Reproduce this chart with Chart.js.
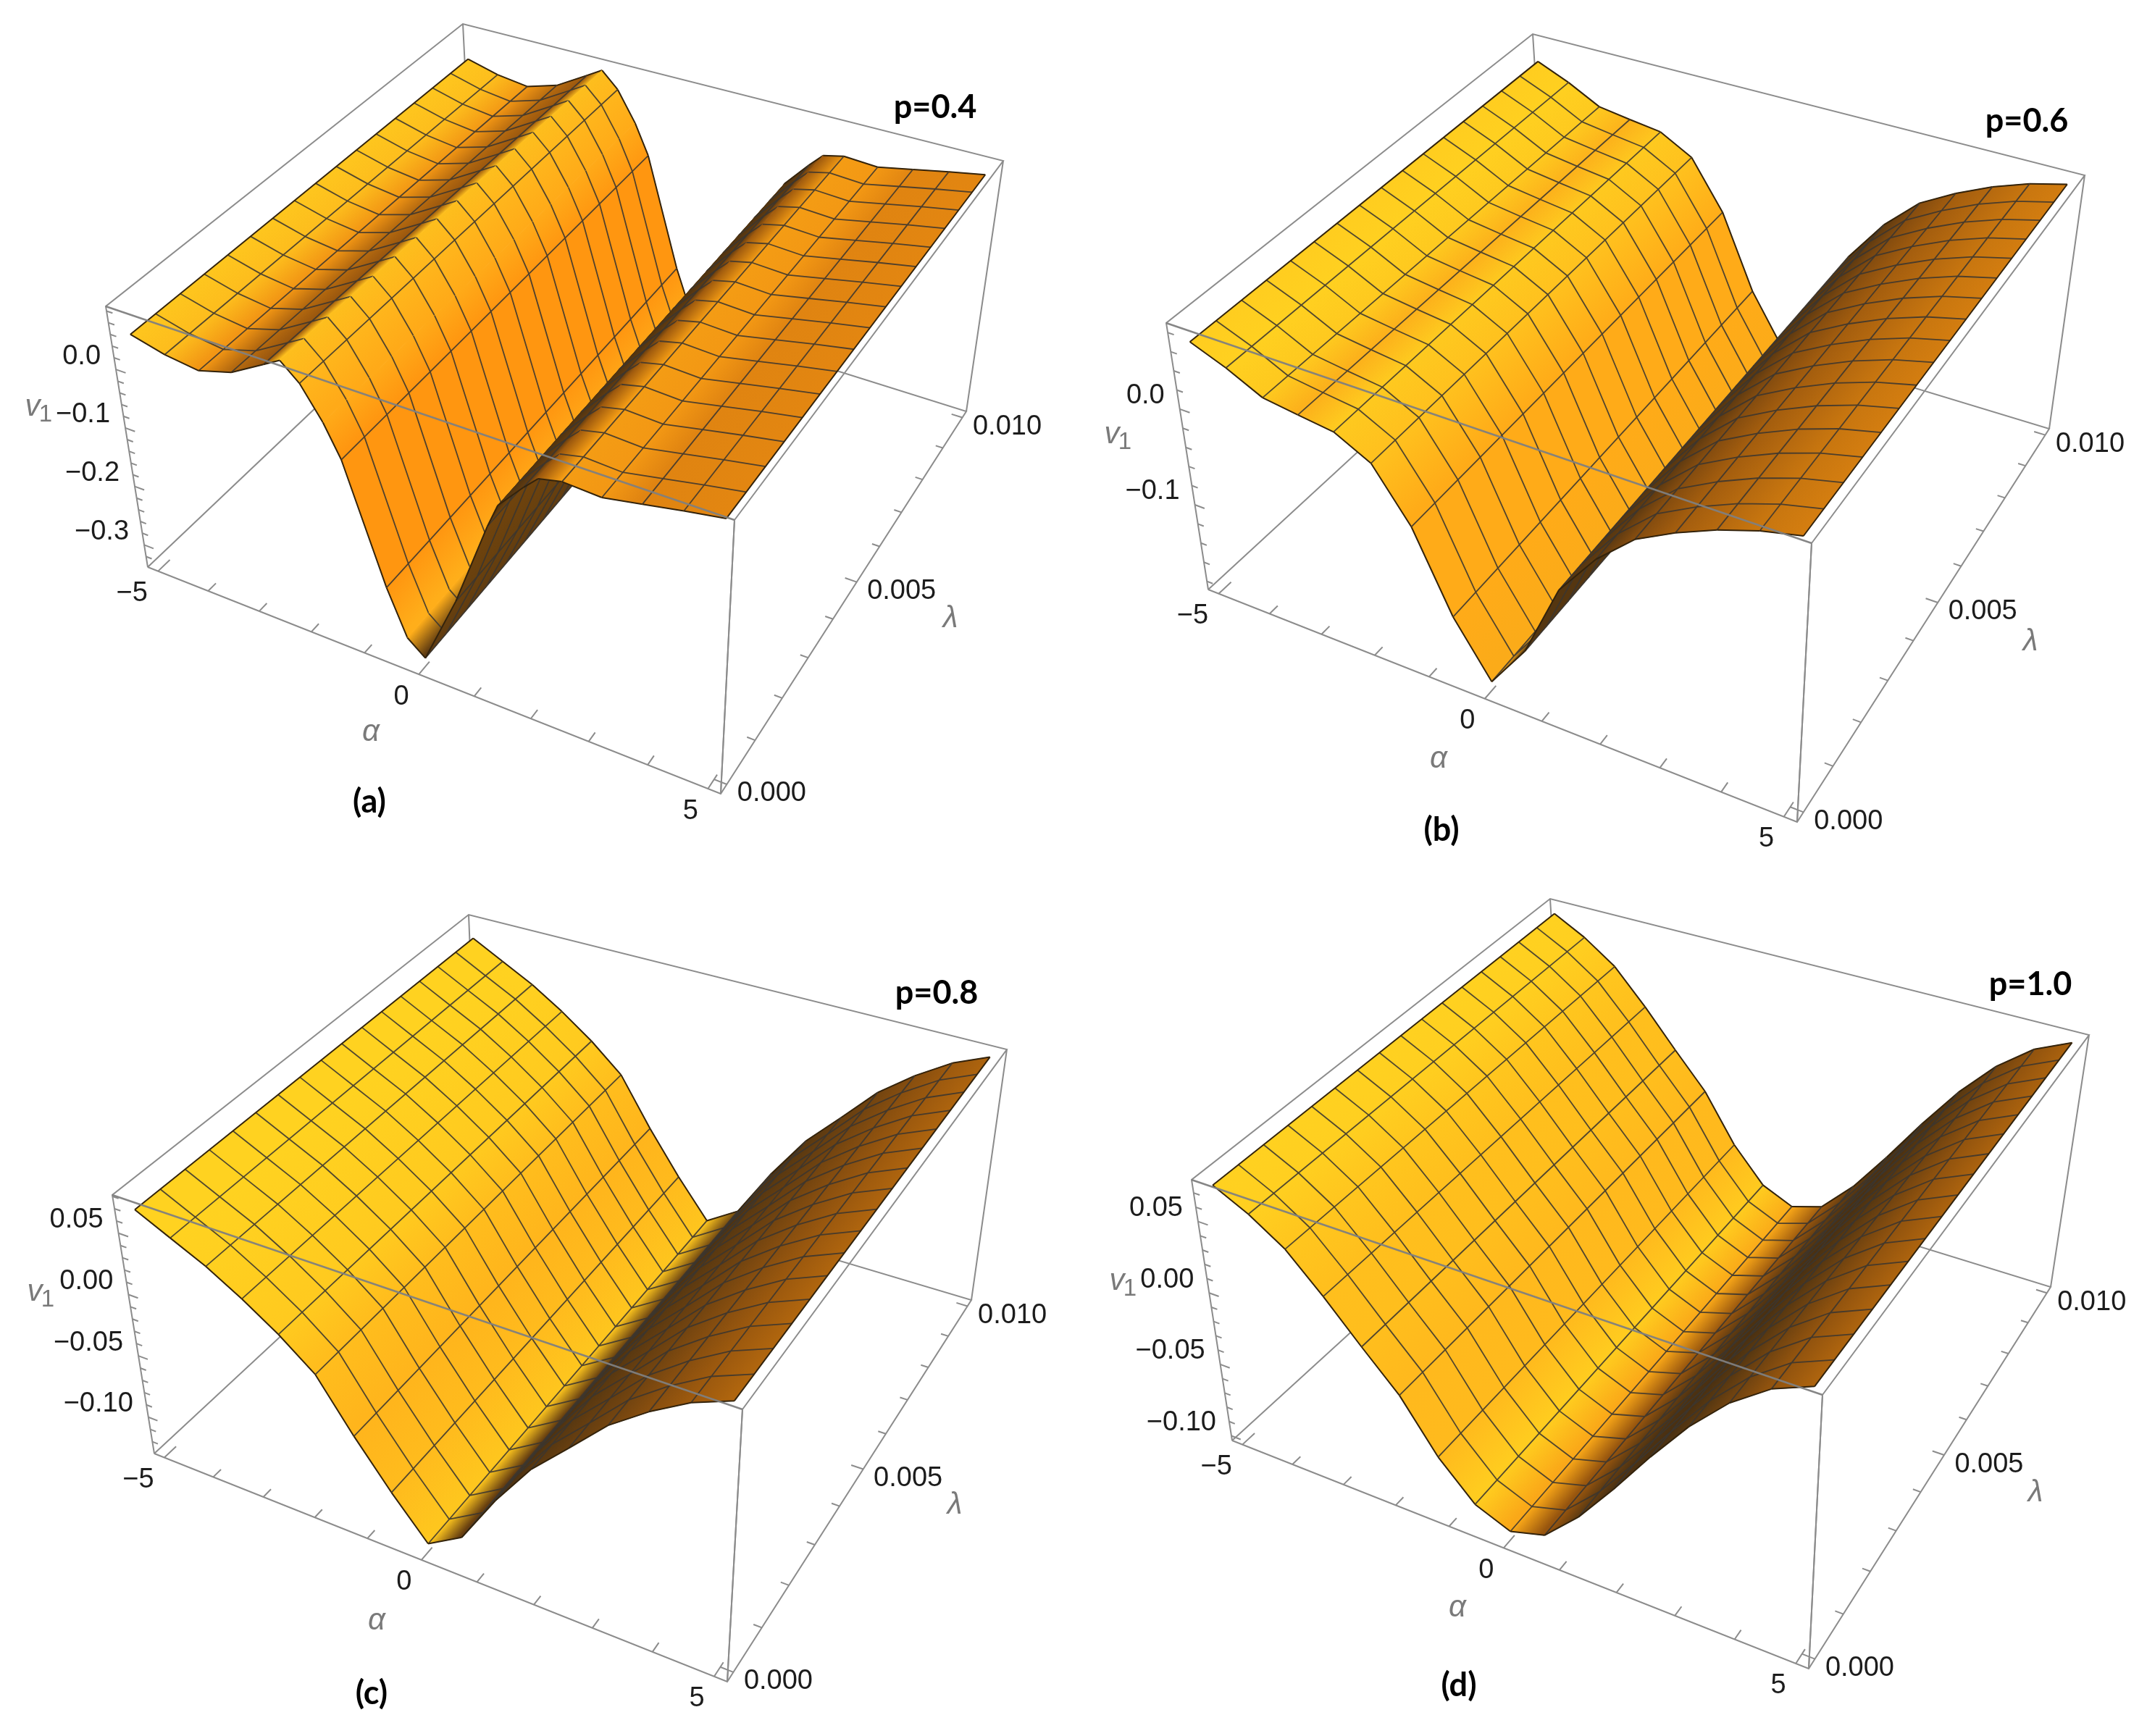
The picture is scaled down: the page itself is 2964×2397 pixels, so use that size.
<!DOCTYPE html>
<html>
<head>
<meta charset="utf-8">
<style>
  html, body { margin: 0; background: #fff; }
  #page { position: relative; width: 2964px; height: 2397px; overflow: hidden; }
  canvas { position: absolute; }
</style>
<script src="https://cdn.jsdelivr.net/npm/chart.js@4/dist/chart.umd.min.js"></script>
</head>
<body>
<div id="page"></div>
<script>
// values
const lambdaMesh = [0, 0.000625, 0.00125, 0.001875, 0.0025, 0.003125, 0.00375, 0.004375, 0.005,
  0.005625, 0.00625, 0.006875, 0.0075, 0.008125, 0.00875, 0.009375, 0.01];
const alphaTicks = [-5, 0, 5];
const lambdaTicks = [0, 0.005, 0.01];

const alphaA = [-5, -4.375, -3.75, -3.125, -2.5, -2.19, -1.875, -1.52, -1.25, -0.625, -0.31, 0, 0.625, 1.25, 1.44, 1.875, 2.12, 2.5, 3.125, 3.75, 4.375, 5];
const v1A = [0.0545, 0.0393, 0.0317, 0.0487, 0.0821, 0.099, 0.0705, 0.0166, -0.037, -0.2296, -0.302, -0.325, -0.2087, -0.0615, -0.0204, 0.0246, 0.0478, 0.0563, 0.0527, 0.0647, 0.0768, 0.0879];
const vTicksA = [0, -0.1, -0.2, -0.3];

const alphaB = [-5, -4.375, -3.75, -3.125, -2.5, -1.875, -1.25, -0.625, 0, 0.625, 1.25, 1.875, 2.5, 3.125, 3.75, 4.375, 5];
const v1B = [0.0669, 0.0518, 0.0332, 0.0279, 0.0231, 0.0036, -0.0487, -0.1276, -0.18, -0.1348, -0.0585, -0.0131, 0.0212, 0.0421, 0.0596, 0.0733, 0.083];
const vTicksB = [0, -0.1];

const alphaC = alphaB;
const v1C = [0.0666, 0.0527, 0.039, 0.0222, 0.0032, -0.0192, -0.0586, -0.0932, -0.1234, -0.1076, -0.0677, -0.0321, -0.0046, 0.0243, 0.046, 0.0643, 0.077];
const vTicksC = [0.05, 0, -0.05, -0.1];

const alphaD = alphaB;
const v1D = [0.0732, 0.0608, 0.0445, 0.0199, -0.0066, -0.0314, -0.065, -0.0885, -0.0978, -0.0912, -0.0695, -0.0413, -0.0102, 0.0197, 0.0451, 0.0641, 0.0755];
const vTicksD = [0.05, 0, -0.05, -0.1];

// box corners: a = (-5,0), b = (5,0), c = (5,0.01), d = (-5,0.01)
const panels = [
  { title: 'p=0.4', tag: '(a)', alpha: alphaA, v1: v1A, vTicks: vTicksA, vDigits: 1, vMinor: 0.02, vMin: -0.338, vMax: 0.108,
    rect: [0, 0, 1482, 1198],
    low: [[204, 783], [995, 1096], [1334, 568], [655, 355]],
    high: [[146, 423], [1014, 718], [1385, 222], [639, 33]],
    titleAt: [1291, 148], tagAt: [510, 1107], alphaAt: [512, 1011], lambdaAt: [1312, 854], vAt: [45, 562] },
  { title: 'p=0.6', tag: '(b)', alpha: alphaB, v1: v1B, vTicks: vTicksB, vDigits: 1, vMinor: 0.02, vMin: -0.1886, vMax: 0.09,
    rect: [1482, 0, 1482, 1198],
    low: [[1668, 814], [2481, 1135], [2829, 592], [2137, 382]],
    high: [[1610, 446], [2501, 750], [2878, 242], [2116, 47]],
    titleAt: [2798, 167], tagAt: [1990, 1146], alphaAt: [1986, 1048], lambdaAt: [2803, 886], vAt: [1535, 600] },
  { title: 'p=0.8', tag: '(c)', alpha: alphaC, v1: v1C, vTicks: vTicksC, vDigits: 2, vMinor: 0.01, vMin: -0.1297, vMax: 0.0812,
    rect: [0, 1198, 1482, 1199],
    low: [[213, 2007], [1004, 2322], [1341, 1795], [660, 1592]],
    high: [[155, 1650], [1025, 1946], [1390, 1449], [647, 1263]],
    titleAt: [1293, 1371], tagAt: [513, 2338], alphaAt: [520, 2238], lambdaAt: [1318, 2078], vAt: [48, 1784] },
  { title: 'p=1.0', tag: '(d)', alpha: alphaD, v1: v1D, vTicks: vTicksD, vDigits: 2, vMinor: 0.01, vMin: -0.1033, vMax: 0.0792,
    rect: [1482, 1198, 1482, 1199],
    low: [[1701, 1989], [2497, 2304], [2831, 1777], [2160, 1570]],
    high: [[1645, 1629], [2516, 1926], [2884, 1429], [2140, 1241]],
    titleAt: [2803, 1359], tagAt: [2014, 2327], alphaAt: [2012, 2220], lambdaAt: [2810, 2061], vAt: [1542, 1769] }
];

const PAD = 0.02;
const GAP = { x: NaN, y: NaN };
const tickFont = '38px "Liberation Sans"';

// colour of the surface against its slope along alpha (box units)
const shadeStops = [
  [-6, 255, 150, 16], [-3, 255, 180, 28], [-1.1, 255, 210, 32], [-0.5, 254, 196, 30], [-0.25, 252, 172, 26], [0, 248, 165, 22],
  [0.3, 238, 140, 18], [0.7, 200, 118, 15], [1.3, 150, 85, 14], [2.8, 72, 48, 18], [6, 120, 72, 12]
];

function shade(s) {
  if (s <= shadeStops[0][0]) s = shadeStops[0][0];
  if (s >= shadeStops[shadeStops.length - 1][0]) s = shadeStops[shadeStops.length - 1][0];
  for (let i = 1; i < shadeStops.length; i++) {
    const a = shadeStops[i - 1], b = shadeStops[i];
    if (s <= b[0]) {
      const t = (s - a[0]) / (b[0] - a[0]);
      return 'rgb(' + [1, 2, 3].map(k => Math.round(a[k] + (b[k] - a[k]) * t)).join(',') + ')';
    }
  }
}

// unit square onto a quad, perspective kept
function quadMap(q) {
  const [x0, y0] = q[0], [x1, y1] = q[1], [x2, y2] = q[2], [x3, y3] = q[3];
  const dx1 = x1 - x2, dx2 = x3 - x2, sx = x0 - x1 + x2 - x3;
  const dy1 = y1 - y2, dy2 = y3 - y2, sy = y0 - y1 + y2 - y3;
  const den = dx1 * dy2 - dx2 * dy1;
  const g = (sx * dy2 - dx2 * sy) / den, h = (dx1 * sy - sx * dy1) / den;
  const a = x1 - x0 + g * x1, b = x3 - x0 + h * x3;
  const d = y1 - y0 + g * y1, e = y3 - y0 + h * y3;
  return (u, l) => {
    const w = g * u + h * l + 1;
    return [(a * u + b * l + x0) / w, (d * u + e * l + y0) / w];
  };
}

function drawPanel(p) {
  const [left, top, width, height] = p.rect;
  const lowMap = quadMap(p.low), highMap = quadMap(p.high);
  const boxPt = (u, l, z) => {
    const a = lowMap(u, l), b = highMap(u, l);
    return { x: a[0] + (b[0] - a[0]) * z, y: a[1] + (b[1] - a[1]) * z };
  };
  const uOf = a => PAD + (1 - 2 * PAD) * (a + 5) / 10;
  const lOf = l => PAD + (1 - 2 * PAD) * l / 0.01;
  const zOf = v => (v - p.vMin) / (p.vMax - p.vMin);
  const at = (a, l, v) => boxPt(uOf(a), lOf(l), zOf(v));

  const datasets = [];
  const line = (data, color, width) => datasets.push({
    data, showLine: true, fill: false, borderColor: color, borderWidth: width, pointRadius: 0, tension: 0
  });

  // box and ticks behind the surface
  const axisColor = '#8c8c8c';
  const boxBack = [
    boxPt(0, 0, 0), boxPt(1, 0, 0), boxPt(1, 1, 0), boxPt(0, 1, 0), boxPt(0, 0, 0), GAP,
    boxPt(0, 0, 0), boxPt(0, 0, 1), boxPt(0, 1, 1), boxPt(1, 1, 1), boxPt(1, 0, 1), boxPt(1, 0, 0), GAP,
    boxPt(1, 1, 0), boxPt(1, 1, 1), GAP, boxPt(0, 1, 0), boxPt(0, 1, 1)
  ];
  line(boxBack, axisColor, 2);

  const ticks = [];
  for (let a = -5; a <= 5; a++) {
    const len = alphaTicks.includes(a) ? 0.03 : 0.02;
    ticks.push(boxPt(uOf(a), 0, 0), boxPt(uOf(a), len, 0), GAP);
  }
  for (let k = 0; k <= 10; k++) {
    const l = k * 0.001;
    const len = k % 5 === 0 ? 0.02 : 0.013;
    ticks.push(boxPt(1, lOf(l), 0), boxPt(1 - len, lOf(l), 0), GAP);
  }
  const vStart = Math.ceil(p.vMin / p.vMinor), vEnd = Math.floor(p.vMax / p.vMinor);
  for (let k = vStart; k <= vEnd; k++) {
    const v = k * p.vMinor;
    const major = p.vTicks.some(t => Math.abs(t - v) < 1e-6);
    ticks.push(boxPt(0, 0, zOf(v)), boxPt(major ? 0.018 : 0.011, 0, zOf(v)), GAP);
  }
  line(ticks, axisColor, 2);

  // surface, far strips first
  const slopes = p.alpha.map((a, i) => {
    const i0 = Math.max(0, i - 1), i1 = Math.min(p.alpha.length - 1, i + 1);
    return (zOf(p.v1[i1]) - zOf(p.v1[i0])) / (uOf(p.alpha[i1]) - uOf(p.alpha[i0]));
  });
  const isMesh = a => Math.abs((a + 5) / 0.625 - Math.round((a + 5) / 0.625)) < 0.01;
  const lMid = lambdaMesh[8], lEnd = lambdaMesh[lambdaMesh.length - 1];

  for (let i = 0; i < p.alpha.length - 1; i++) {
    const a0 = p.alpha[i], a1 = p.alpha[i + 1], v0 = p.v1[i], v1 = p.v1[i + 1];
    const c0 = shade(slopes[i]), c1 = shade(slopes[i + 1]);
    // gradient runs across the strip, the canvas sits at rect so px = value - offset
    const paint = (ctx) => {
      const A = at(a0, lMid, v0), B = at(a1, lMid, v1);
      const E = at(a0, 0, v0), F = at(a0, lEnd, v0);
      const ex = F.x - E.x, ey = F.y - E.y;
      const n = Math.hypot(ex, ey);
      const nx = -ey / n, ny = ex / n;
      const d = (B.x - A.x) * nx + (B.y - A.y) * ny;
      const ax = A.x - left, ay = A.y - top;
      const g = ctx.chart.ctx.createLinearGradient(ax, ay, ax + nx * d, ay + ny * d);
      g.addColorStop(0, c0);
      g.addColorStop(1, c1);
      return g;
    };
    datasets.push({
      data: [at(a0, 0, v0), at(a1, 0, v1), at(a1, lEnd, v1), at(a0, lEnd, v0), at(a0, 0, v0)],
      showLine: true, fill: 'shape', backgroundColor: paint, borderColor: paint, borderWidth: 1, pointRadius: 0, tension: 0
    });

    const mesh = [];
    if (isMesh(a0) && i > 0) mesh.push(at(a0, 0, v0), at(a0, lEnd, v0), GAP);
    lambdaMesh.slice(1, -1).forEach(l => mesh.push(at(a0, l, v0), at(a1, l, v1), GAP));
    line(mesh, 'rgba(58,54,48,0.88)', 1.8);

    const edge = [at(a0, 0, v0), at(a1, 0, v1), GAP, at(a0, lEnd, v0), at(a1, lEnd, v1), GAP];
    if (i === 0) edge.push(at(a0, 0, v0), at(a0, lEnd, v0), GAP);
    if (i === p.alpha.length - 2) edge.push(at(a1, 0, v1), at(a1, lEnd, v1), GAP);
    line(edge, '#33230c', 2);
  }

  // near top edge runs over the surface
  line([boxPt(0, 0, 1), boxPt(1, 0, 1)], 'rgba(128,128,128,0.95)', 2.4);
  line([boxPt(1, 0, 0), boxPt(1, 0, 1)], axisColor, 2);

  datasets.forEach((d, i) => { d.order = datasets.length - i; });

  const textPlugin = {
    id: 'panelText',
    afterDraw(chart) {
      const c = chart.ctx, sx = chart.scales.x, sy = chart.scales.y;
      const put = (str, x, y, font, color, align) => {
        c.font = font;
        c.fillStyle = color;
        c.textAlign = align || 'center';
        c.textBaseline = 'middle';
        c.fillText(str, sx.getPixelForValue(x), sy.getPixelForValue(y));
      };
      c.save();
      alphaTicks.forEach(a => {
        const t = boxPt(uOf(a), 0, 0);
        put(String(a).replace('-', '\u2212'), t.x + (a < 0 ? -36 : -24), t.y + 31, tickFont, '#1c1c1c');
      });
      lambdaTicks.forEach(l => {
        const t = boxPt(1, lOf(l), 0);
        put(l.toFixed(3), t.x + 62, t.y + 13, tickFont, '#1c1c1c');
      });
      p.vTicks.forEach(v => {
        const t = boxPt(0, 0, zOf(v));
        put(v.toFixed(p.vDigits).replace('-', '\u2212'), t.x - 21, t.y - 18, tickFont, '#1c1c1c', 'right');
      });
      const italic = 'italic 42px "Liberation Sans"';
      put('\u03b1', p.alphaAt[0], p.alphaAt[1], italic, '#7a7a7a');
      put('\u03bb', p.lambdaAt[0], p.lambdaAt[1], italic, '#7a7a7a');
      put('v', p.vAt[0], p.vAt[1], italic, '#7a7a7a');
      put('1', p.vAt[0] + 18, p.vAt[1] + 11, '33px "Liberation Sans"', '#7a7a7a');
      put(p.title, p.titleAt[0], p.titleAt[1], 'bold 45px Lato', '#000');
      put(p.tag, p.tagAt[0], p.tagAt[1], 'bold 45px Lato', '#000');
      c.restore();
    }
  };

  const canvas = document.createElement('canvas');
  canvas.width = width;
  canvas.height = height;
  canvas.style.left = left + 'px';
  canvas.style.top = top + 'px';
  canvas.style.width = width + 'px';
  canvas.style.height = height + 'px';
  document.getElementById('page').appendChild(canvas);

  new Chart(canvas, {
    type: 'scatter',
    data: { datasets },
    options: {
      responsive: false,
      animation: false,
      layout: { padding: 0 },
      plugins: { legend: { display: false }, tooltip: { enabled: false } },
      scales: {
        x: { type: 'linear', display: false, min: left, max: left + width },
        y: { type: 'linear', display: false, reverse: true, min: top, max: top + height }
      }
    },
    plugins: [textPlugin]
  });
}

panels.forEach(drawPanel);
</script>
</body>
</html>
